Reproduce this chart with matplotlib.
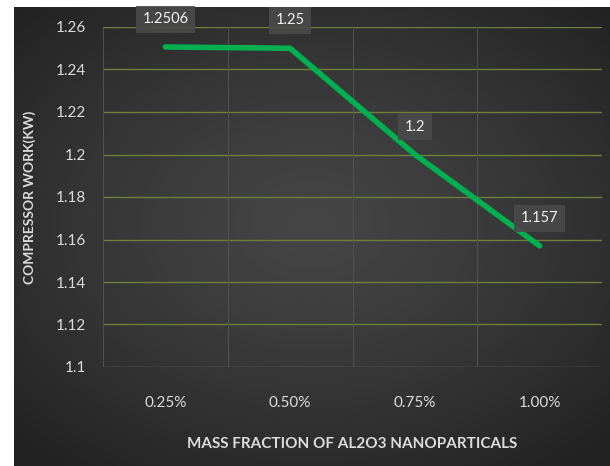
import matplotlib.pyplot as plt
import numpy as np

categories = ["0.25%", "0.50%", "0.75%", "1.00%"]
compressor_work = [1.2506, 1.25, 1.2, 1.157]
y_ticks = [1.1, 1.12, 1.14, 1.16, 1.18, 1.2, 1.22, 1.24, 1.26]
value_labels = ["1.2506", "1.25", "1.2", "1.157"]

W, H = 610, 466
fig = plt.figure(figsize=(W / 100, H / 100), dpi=100)
fig.patch.set_facecolor("white")
plt.rcParams["font.family"] = ["Lato", "DejaVu Sans"]

# dark radial gradient background (chart area)
bg = fig.add_axes([14 / W, 0, 1 - 14 / W, 1 - 7 / H])
bg.set_axis_off()
gx, gy = np.meshgrid(np.linspace(-1, 1, 300), np.linspace(-1, 1, 240))
r = np.sqrt((gx * 0.9) ** 2 + ((gy + 0.05) * 0.95) ** 2)
shade = 0.27 - 0.14 * np.clip(r / 1.3, 0, 1) ** 1.3
bg.imshow(np.dstack([shade, shade, shade]), extent=[0, 1, 0, 1], aspect="auto")
bg.set_xlim(0, 1)
bg.set_ylim(0, 1)

ax = fig.add_axes([103 / W, 1 - 367 / H, (602 - 103) / W, (367 - 27) / H])
ax.patch.set_alpha(0)
x = np.arange(len(categories))

for yt in y_ticks[1:]:
    ax.axhline(yt, color="#6e7f3c", linewidth=1.0, zorder=1)
for xv in np.arange(-0.5, len(categories), 1.0):
    ax.axvline(xv, color="#525252", linewidth=0.7, zorder=1)
ax.axhline(1.1, color="#6a6a6a", linewidth=1.0, zorder=1)

ax.plot(x, compressor_work, color="#00b050", linewidth=4.0, solid_capstyle="round", zorder=3)

for xi, yi, lab in zip(x, compressor_work, value_labels):
    ax.annotate(lab, (xi, yi), xytext=(0, 20), textcoords="offset points",
                ha="center", va="center", color="#f2f2f2", fontsize=10.5,
                bbox=dict(boxstyle="square,pad=0.45", facecolor="#4a4a4a",
                          edgecolor="none", alpha=0.9),
                zorder=4, annotation_clip=False)

ax.set_xlim(-0.5, len(categories) - 0.5)
ax.set_ylim(1.1, 1.26)
ax.set_xticks(x)
ax.set_xticklabels(categories)
ax.set_yticks(y_ticks)
ax.set_yticklabels([f"{v:g}" for v in y_ticks])
ax.tick_params(axis="both", length=0, colors="#dcdcdc", labelsize=11)
ax.tick_params(axis="x", pad=21)
ax.tick_params(axis="y", pad=12)
for s in ax.spines.values():
    s.set_visible(False)

fig.text((103 + 602) / 2 / W, 1 - 444 / H, "MASS FRACTION OF AL2O3 NANOPARTICALS",
         ha="center", va="center", color="#dcdcdc", fontsize=11, fontweight="bold")
fig.text(30 / W, 1 - 197 / H, "COMPRESSOR WORK(KW)", rotation=90,
         ha="center", va="center", color="#dcdcdc", fontsize=10, fontweight="bold")

fig.savefig("out.png", dpi=100)
